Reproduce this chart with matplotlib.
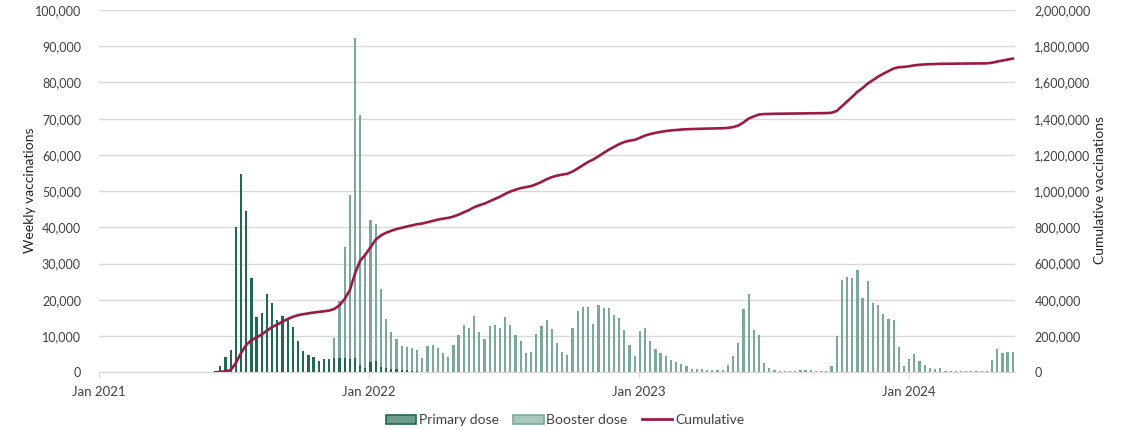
import numpy as np
import pandas as pd
import matplotlib
matplotlib.use("Agg")
import matplotlib.pyplot as plt
import matplotlib.dates as mdates
from matplotlib.patches import Patch
from matplotlib.lines import Line2D
from matplotlib.ticker import FuncFormatter, MultipleLocator

# ---------------- data ----------------
week_start = "2021-06-07"

primary = [
    0,
    1800, 4300, 6100, 40000, 54600, 44400, 26100, 15200, 16500, 21500,
    19200, 14300, 15500, 14500, 12400, 8700, 5800, 4700, 4300, 3200,
    3600, 3800, 4000, 4000, 3900, 3800, 4000, 2000, 1300, 2900,
    3100, 1600, 1100, 800, 800, 600, 500, 400, 400, 200,
    200, 200, 200, 200, 100, 100, 100, 100, 100, 100,
    100, 100, 100, 100, 100, 0, 0, 0, 0, 0,
    0, 0, 0, 0, 0, 0, 0, 0, 0, 0,
    0, 0, 0, 0, 0, 0, 0, 0, 0, 0,
    0, 0, 0, 0, 0, 0, 0, 0, 0, 0,
    0, 0, 0, 0, 0, 0, 0, 0, 0, 0,
    0, 0, 0, 0, 0, 0, 0, 0, 0, 0,
    0, 0, 0, 0, 0, 0, 0, 0, 0, 0,
    0, 0, 0, 0, 0, 0, 0, 0, 0, 0,
    0, 0, 0, 0, 0, 0, 0, 0, 0, 0,
    0, 0, 0, 0, 0, 0, 0, 0, 0, 0,
    0, 0, 0, 0,
]

booster = [
    0,
    0, 0, 0, 0, 0, 0, 0, 0, 0, 0,
    0, 0, 0, 0, 0, 0, 0, 0, 0, 0,
    0, 0, 5400, 15800, 30800, 45200, 88200, 68900, 31700, 39000,
    37900, 21400, 13700, 10300, 8500, 6600, 6400, 6300, 5700, 3700,
    7100, 7200, 6500, 5200, 4000, 7500, 10200, 12900, 12200, 15500,
    11000, 9100, 12800, 12900, 12200, 15300, 13000, 10200, 8700, 5300,
    5600, 10600, 12900, 14400, 11900, 8100, 5600, 4900, 12200, 16900,
    17900, 18100, 13400, 18500, 17800, 17800, 15800, 15100, 11600, 7400,
    4400, 11400, 12300, 8600, 6400, 5400, 4500, 3500, 2800, 2200,
    1700, 1000, 1000, 800, 700, 600, 700, 700, 1900, 4500,
    8200, 17400, 21700, 11700, 10200, 2600, 1100, 500, 400, 400,
    300, 300, 500, 500, 500, 300, 300, 300, 1800, 9900,
    25600, 26400, 25900, 28200, 20400, 25200, 19100, 18500, 16200, 14800,
    14300, 6900, 1800, 3700, 5000, 3000, 2000, 1200, 1000, 1100,
    300, 300, 300, 300, 300, 300, 300, 300, 300, 3300,
    6500, 5200, 5500, 5500,
]

x_tick_dates = ["2021-01-01", "2022-01-01", "2023-01-01", "2024-01-01"]
x_tick_labels = ["Jan 2021", "Jan 2022", "Jan 2023", "Jan 2024"]
series_names = ["Primary dose", "Booster dose", "Cumulative"]

# ---------------- derived ----------------
weeks = pd.date_range(week_start, periods=len(primary), freq="7D")
primary_a = np.array(primary, dtype=float)
booster_a = np.array(booster, dtype=float)
cumulative = np.cumsum(primary_a + booster_a)

# ---------------- style ----------------
plt.rcParams["font.family"] = ["Lato", "DejaVu Sans"]
c_primary = "#1d6a51"
c_booster = "#7aa99b"
c_line = "#9b1a47"
c_grid = "#d9d9d9"
c_text = "#404040"

W, H = 1123, 430
fig = plt.figure(figsize=(W / 100, H / 100), dpi=100)
left, right, top, bottom = 99, 1015, 10, 372.3
ax = fig.add_axes([left / W, 1 - bottom / H, (right - left) / W, (bottom - top) / H])

ax.bar(weeks, primary_a, width=3.0, color=c_primary, linewidth=0, zorder=2)
ax.bar(weeks, booster_a, width=3.0, bottom=primary_a, color=c_booster, linewidth=0, zorder=2)

ax.set_ylim(0, 100000)
ax.yaxis.set_major_locator(MultipleLocator(10000))
ax.yaxis.set_major_formatter(FuncFormatter(lambda v, p: f"{v:,.0f}"))
ax.set_xlim(mdates.date2num(pd.Timestamp("2021-01-01")), mdates.date2num(pd.Timestamp("2024-05-23")))
ax.set_xticks(mdates.date2num(pd.to_datetime(x_tick_dates)))
ax.set_xticklabels(x_tick_labels)
ax.grid(axis="y", color=c_grid, linewidth=1)
ax.set_axisbelow(True)
for s in ["top", "right", "left"]:
    ax.spines[s].set_visible(False)
ax.spines["bottom"].set_color(c_grid)
ax.tick_params(axis="y", length=0, pad=13, labelsize=9, labelcolor=c_text)
ax.tick_params(axis="x", length=4, color=c_grid, pad=6, labelsize=9.5, labelcolor=c_text)

ax2 = ax.twinx()
ax2.plot(weeks, cumulative, color=c_line, linewidth=1.9, zorder=3, solid_joinstyle="round")
ax2.set_ylim(0, 2000000)
ax2.yaxis.set_major_locator(MultipleLocator(200000))
ax2.yaxis.set_major_formatter(FuncFormatter(lambda v, p: f"{v:,.0f}"))
for s in ["top", "right", "left", "bottom"]:
    ax2.spines[s].set_visible(False)
ax2.tick_params(axis="y", length=0, pad=14, labelsize=9, labelcolor=c_text)

fig.text(30 / W, 1 - 190 / H, "Weekly vaccinations", rotation=90, ha="center", va="center",
         fontsize=10, color="#262626")
fig.text(1100 / W, 1 - 190 / H, "Cumulative vaccinations", rotation=90, ha="center", va="center",
         fontsize=10, color="#262626")

handles = [
    Patch(facecolor="#6e9d8d", edgecolor=c_primary, linewidth=1.2),
    Patch(facecolor="#a8c8be", edgecolor=c_booster, linewidth=1.2),
    Line2D([0], [0], color=c_line, linewidth=2),
]
fig.legend(handles, series_names, loc="center", bbox_to_anchor=(565 / W, 1 - 420 / H), ncol=3,
           frameon=False, fontsize=10, handlelength=2.2, handleheight=0.6, handletextpad=0.2,
           columnspacing=1.0, labelcolor=c_text)

fig.savefig("out.png", dpi=100)
